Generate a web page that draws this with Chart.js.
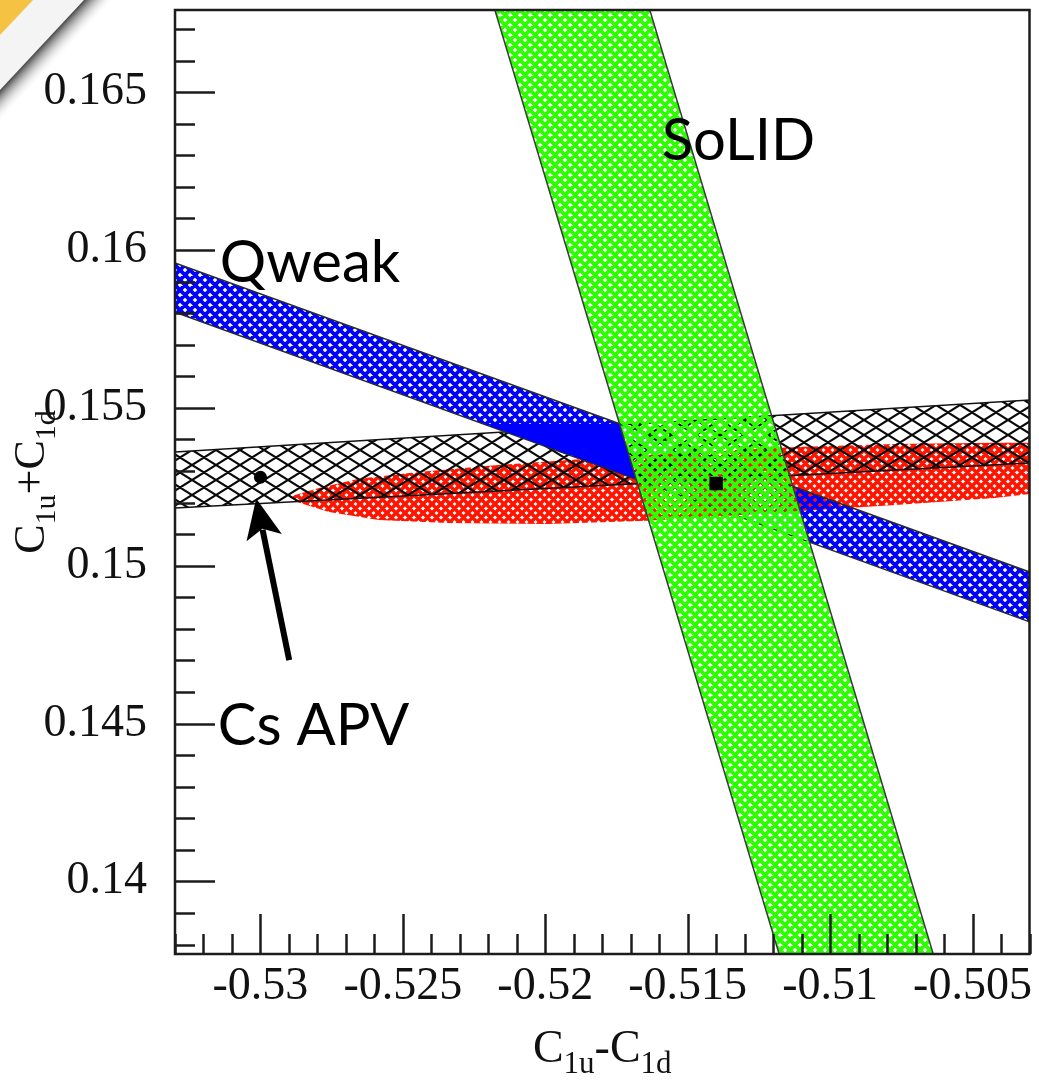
<!DOCTYPE html>
<html>
<head>
<meta charset="utf-8">
<script src="https://cdn.jsdelivr.net/npm/chart.js@4.4.1/dist/chart.umd.min.js"></script>
<style>
  html, body { margin: 0; padding: 0; background: #fff; }
  canvas { display: block; }
</style>
</head>
<body>
<canvas id="plot" width="1039" height="1086"></canvas>
<script>
// axis limits and labelled ticks
const xRange = [-0.533, -0.503];
const yRange = [0.1377, 0.1676];
const xTicks = [-0.53, -0.525, -0.52, -0.515, -0.51, -0.505];
const xTickLabels = ['-0.53', '-0.525', '-0.52', '-0.515', '-0.51', '-0.505'];
const yTicks = [0.14, 0.145, 0.15, 0.155, 0.16, 0.165];
const yTickLabels = ['0.14', '0.145', '0.15', '0.155', '0.16', '0.165'];

// SoLID band (corners)
const solidX = [-0.52177, -0.51633, -0.50638, -0.51179];
const solidY = [0.1676, 0.1676, 0.1377, 0.1377];

// Qweak band (corners) and its solid wedge
const qweakX = [-0.533, -0.503, -0.503, -0.533];
const qweakY = [0.15959, 0.1498, 0.14822, 0.15803];
const wedgeX = [-0.52212, -0.51739, -0.51683];
const wedgeY = [0.15449, 0.15449, 0.15276];

// Cs APV band (corners)
const apvX = [-0.533, -0.503, -0.503, -0.533];
const apvY = [0.1536, 0.15525, 0.15325, 0.15183];

// combined ellipse outline
const combX = [-0.52899, -0.52794, -0.52655, -0.52445, -0.52166, -0.51818, -0.51469, -0.5112,
  -0.50771, -0.50422, -0.503, -0.503, -0.50422, -0.50771, -0.5105, -0.51294, -0.51643,
  -0.51992, -0.52341, -0.52585, -0.52759, -0.52864];
const combY = [0.15218, 0.15246, 0.15275, 0.15297, 0.15319, 0.15341, 0.1536, 0.15376,
  0.15385, 0.15389, 0.15389, 0.15227, 0.15214, 0.15192, 0.15176, 0.15161, 0.15142,
  0.15132, 0.15135, 0.15145, 0.1517, 0.15199];

// central values
const apvPoint = [{x: -0.53, y: 0.1528}];
const solidPoint = [{x: -0.514, y: 0.1526}];

// arrow from the label to the Cs APV point
const arrowFrom = {x: -0.52899, y: 0.14701};
const arrowTo = {x: -0.53015, y: 0.15213};

// text labels, anchored left / baseline
const notes = [
  {text: 'SoLID', x: -0.51591, y: 0.16285},
  {text: 'Qweak', x: -0.53143, y: 0.15898},
  {text: 'Cs APV', x: -0.5315, y: 0.14432}
];

function toPoly(xs, ys) {
  const pts = xs.map((x, i) => ({x: x, y: ys[i]}));
  pts.push({x: xs[0], y: ys[0]});
  return pts;
}

function hatch(color, w, h, lw) {
  const c = document.createElement('canvas');
  c.width = w;
  c.height = h;
  const g = c.getContext('2d');
  g.strokeStyle = color;
  g.lineWidth = lw;
  g.beginPath();
  for (const dx of [-w, 0, w]) {
    for (const dy of [-h, 0, h]) {
      g.moveTo(dx, dy); g.lineTo(dx + w, dy + h);
      g.moveTo(dx, dy + h); g.lineTo(dx + w, dy);
    }
  }
  g.stroke();
  return g.createPattern(c, 'repeat');
}

function band(label, xs, ys, fillStyle, border) {
  return {
    label: label,
    data: toPoly(xs, ys),
    showLine: true,
    fill: 'shape',
    backgroundColor: fillStyle,
    borderColor: border || 'rgba(0,0,0,0)',
    borderWidth: border ? 1.5 : 0,
    pointRadius: 0,
    tension: 0
  };
}

const greenHatch = hatch('#2cff00', 10, 10, 3.8);
const blueHatch = hatch('#0000ff', 10, 10, 3.8);
const redHatch = hatch('#ff1400', 9, 9, 3.6);
const blackHatch = hatch('#0a0a0a', 24, 15, 2.2);

function drawSubText(ctx, parts, big, small, drop) {
  let total = 0;
  for (const p of parts) {
    ctx.font = (p[1] ? small : big) + 'px "Liberation Serif", "Times New Roman", serif';
    total += ctx.measureText(p[0]).width;
  }
  let x = -total / 2;
  for (const p of parts) {
    ctx.font = (p[1] ? small : big) + 'px "Liberation Serif", "Times New Roman", serif';
    ctx.fillText(p[0], x, p[1] ? drop : 0);
    x += ctx.measureText(p[0]).width;
  }
}

const decor = {
  id: 'decor',
  beforeDraw(chart) {
    const ctx = chart.ctx;
    ctx.save();
    ctx.fillStyle = '#fff';
    ctx.fillRect(0, 0, chart.width, chart.height);
    // folded page corner
    ctx.fillStyle = '#f4f4f4';
    ctx.beginPath();
    ctx.moveTo(0, 0); ctx.lineTo(84, 0); ctx.lineTo(0, 90); ctx.closePath();
    ctx.fill();
    ctx.fillStyle = '#f5c243';
    ctx.beginPath();
    ctx.moveTo(0, 0); ctx.lineTo(33, 0); ctx.lineTo(0, 35); ctx.closePath();
    ctx.fill();
    const gr = ctx.createLinearGradient(42, 45, 42 + 0.731 * 22, 45 + 0.682 * 22);
    gr.addColorStop(0, 'rgba(60,60,60,0.95)');
    gr.addColorStop(0.25, 'rgba(110,110,110,0.7)');
    gr.addColorStop(1, 'rgba(255,255,255,0)');
    ctx.fillStyle = gr;
    ctx.beginPath();
    ctx.moveTo(84, 0); ctx.lineTo(0, 90); ctx.lineTo(0, 130); ctx.lineTo(130, 0); ctx.closePath();
    ctx.fill();
    ctx.restore();
  },
  afterDatasetsDraw(chart) {
    const {ctx, chartArea: a, scales: {x, y}} = chart;
    ctx.save();
    // inward ticks, major every 0.005, minor every 0.001
    ctx.strokeStyle = '#1c1c1c';
    ctx.lineWidth = 2.5;
    ctx.beginPath();
    for (let i = 0; i <= 30; i++) {
      const v = -533 + i;
      const px = Math.round(x.getPixelForValue(v / 1000)) + 0.5;
      const len = v % 5 === 0 ? 40 : 20;
      ctx.moveTo(px, a.bottom); ctx.lineTo(px, a.bottom - len);
    }
    for (let v = 138; v <= 167; v++) {
      const py = Math.round(y.getPixelForValue(v / 1000)) + 0.5;
      const len = v % 5 === 0 ? 40 : 20;
      ctx.moveTo(a.left, py); ctx.lineTo(a.left + len, py);
    }
    ctx.stroke();
    ctx.lineWidth = 2.5;
    ctx.strokeRect(a.left, a.top, a.right - a.left, a.bottom - a.top);

    // arrow
    const x0 = x.getPixelForValue(arrowFrom.x), y0 = y.getPixelForValue(arrowFrom.y);
    const x1 = x.getPixelForValue(arrowTo.x), y1 = y.getPixelForValue(arrowTo.y);
    const ang = Math.atan2(y1 - y0, x1 - x0);
    const head = 40, half = 18;
    const bx = x1 - Math.cos(ang) * head, by = y1 - Math.sin(ang) * head;
    ctx.strokeStyle = '#000';
    ctx.fillStyle = '#000';
    ctx.lineWidth = 6;
    ctx.beginPath();
    ctx.moveTo(x0, y0);
    ctx.lineTo(bx + Math.cos(ang) * 8, by + Math.sin(ang) * 8);
    ctx.stroke();
    ctx.beginPath();
    ctx.moveTo(x1, y1);
    ctx.lineTo(bx - Math.sin(ang) * half, by + Math.cos(ang) * half);
    ctx.lineTo(bx + Math.cos(ang) * 9, by + Math.sin(ang) * 9);
    ctx.lineTo(bx + Math.sin(ang) * half, by - Math.cos(ang) * half);
    ctx.closePath();
    ctx.fill();

    // experiment labels
    ctx.font = '58px Lato, "Open Sans", sans-serif';
    ctx.textBaseline = 'alphabetic';
    ctx.textAlign = 'left';
    for (const n of notes) {
      ctx.fillText(n.text, x.getPixelForValue(n.x), y.getPixelForValue(n.y));
    }
    ctx.restore();
  },
  afterDraw(chart) {
    const {ctx, chartArea: a} = chart;
    ctx.save();
    ctx.fillStyle = '#111';
    ctx.textBaseline = 'alphabetic';
    ctx.textAlign = 'left';
    // x title
    ctx.save();
    ctx.translate((a.left + a.right) / 2, 1062);
    drawSubText(ctx, [['C', false], ['1u', true], ['-', false], ['C', false], ['1d', true]], 46, 31, 11);
    ctx.restore();
    // y title
    ctx.save();
    ctx.translate(44, (a.top + a.bottom) / 2);
    ctx.rotate(-Math.PI / 2);
    drawSubText(ctx, [['C', false], ['1u', true], ['+', false], ['C', false], ['1d', true]], 44, 30, 11);
    ctx.restore();
    ctx.restore();
  }
};

const tickFont = {family: '"Liberation Serif", "Times New Roman", serif', size: 46};

new Chart(document.getElementById('plot'), {
  type: 'line',
  data: {
    datasets: [
      {label: 'Cs APV', data: apvPoint, showLine: false, pointStyle: 'circle', pointRadius: 6.5,
        backgroundColor: '#000', borderColor: '#000', borderWidth: 0},
      {label: 'SoLID', data: solidPoint, showLine: false, pointStyle: 'rect', pointRadius: 9.5,
        backgroundColor: '#000', borderColor: '#000', borderWidth: 0},
      band('SoLID band', solidX, solidY, greenHatch, '#3a3a3a'),
      band('Qweak wedge', wedgeX, wedgeY, '#0000ff'),
      band('Qweak band', qweakX, qweakY, blueHatch, '#2a2a2a'),
      band('Cs APV band', apvX, apvY, blackHatch, '#111'),
      band('Combined', combX, combY, redHatch)
    ]
  },
  options: {
    responsive: false,
    maintainAspectRatio: false,
    animation: false,
    devicePixelRatio: 1,
    layout: {padding: {top: 10, right: 4, left: 0, bottom: 0}},
    plugins: {
      legend: {display: false},
      tooltip: {enabled: false}
    },
    scales: {
      x: {
        type: 'linear',
        min: xRange[0],
        max: xRange[1],
        grid: {display: false, drawTicks: false},
        border: {display: false},
        afterBuildTicks: (s) => { s.ticks = xTicks.map(v => ({value: v})); },
        afterFit: (s) => { s.height = 132; s.paddingLeft = 0; s.paddingRight = 0; },
        ticks: {
          autoSkip: false, maxRotation: 0, minRotation: 0, padding: 5,
          color: '#111', font: tickFont,
          callback: (v, i) => xTickLabels[i]
        }
      },
      y: {
        type: 'linear',
        min: yRange[0],
        max: yRange[1],
        grid: {display: false, drawTicks: false},
        border: {display: false},
        afterBuildTicks: (s) => { s.ticks = yTicks.map(v => ({value: v})); },
        afterFit: (s) => { s.width = 175; s.paddingTop = 0; s.paddingBottom = 0; },
        ticks: {
          autoSkip: false, padding: 28,
          color: '#111', font: tickFont,
          callback: (v, i) => yTickLabels[i]
        }
      }
    }
  },
  plugins: [decor]
});
</script>
</body>
</html>
